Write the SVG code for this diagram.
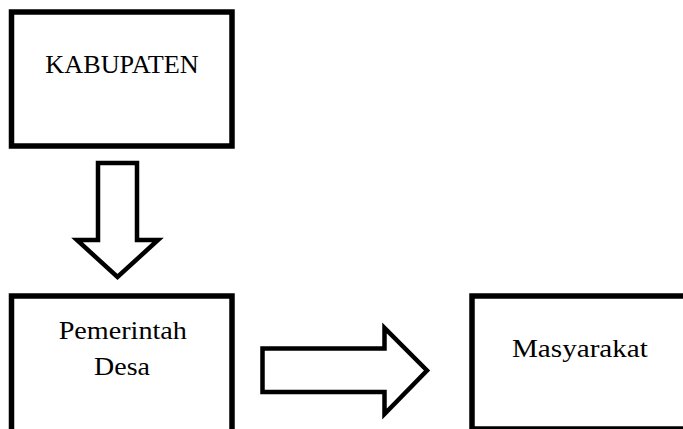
<svg xmlns="http://www.w3.org/2000/svg" width="683" height="429" viewBox="0 0 683 429">
  <style>
    .box { fill: #ffffff; stroke: #000000; stroke-width: 5.5; }
    .arrow { fill: #ffffff; stroke: #000000; stroke-width: 4.5; stroke-linejoin: miter; stroke-miterlimit: 10; }
    .label { font-family: "Liberation Serif", "Times New Roman", serif; font-size: 24.5px; fill: #000000; text-anchor: middle; }
  </style>
  <rect width="683" height="429" fill="#ffffff"/>
  <g id="kabupaten">
    <rect class="box" x="11.5" y="12" width="220.5" height="134"/>
    <text class="label" transform="translate(122,73.3) scale(1.07,1)">KABUPATEN</text>
  </g>
  <g id="pemerintah-desa">
    <rect class="box" x="11.5" y="296" width="220.5" height="150"/>
    <text class="label" transform="translate(122.8,339) scale(1.15,1)">Pemerintah</text>
    <text class="label" transform="translate(122,375) scale(1.14,1)">Desa</text>
  </g>
  <g id="masyarakat">
    <rect class="box" x="472" y="296" width="230" height="133"/>
    <text class="label" transform="translate(579.9,357) scale(1.19,1)">Masyarakat</text>
  </g>
  <g id="connectors">
    <polygon class="arrow" points="98,163 137,163 137,240 158,240 117.5,277 77,240 98,240"/>
    <polygon class="arrow" points="262.5,348.5 384.5,348.5 384.5,328 427,370.5 384.5,414 384.5,392 262.5,392"/>
  </g>
</svg>
